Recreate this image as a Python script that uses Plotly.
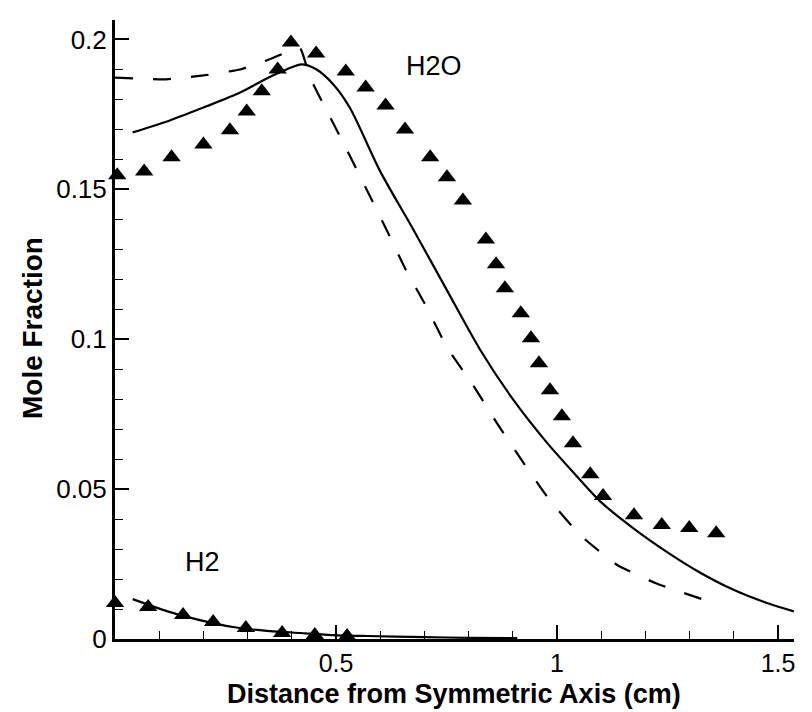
import plotly.graph_objects as go

# H2O measured (triangles)
h2o_exp_x = [0.005, 0.066, 0.128, 0.200, 0.260, 0.298, 0.332, 0.368, 0.398, 0.455,
             0.522, 0.567, 0.612, 0.656, 0.713, 0.751, 0.787, 0.839, 0.862, 0.882,
             0.918, 0.941, 0.959, 0.984, 1.011, 1.036, 1.075, 1.104, 1.174, 1.237,
             1.299, 1.360]
h2o_exp_y = [0.1547, 0.1560, 0.1607, 0.1650, 0.1697, 0.1760, 0.1827, 0.1900, 0.1990, 0.1953,
             0.1893, 0.1840, 0.1780, 0.1700, 0.1607, 0.1540, 0.1463, 0.1333, 0.1250, 0.1170,
             0.1087, 0.1003, 0.0920, 0.0830, 0.0743, 0.0653, 0.0550, 0.0477, 0.0413, 0.0380,
             0.0370, 0.0353]

# H2O model (solid)
h2o_solid_x = [0.040, 0.124, 0.207, 0.283, 0.343, 0.388, 0.422, 0.456, 0.494, 0.531,
               0.600, 0.676, 0.751, 0.826, 0.900, 0.977, 1.036, 1.097, 1.172,
               1.249, 1.323, 1.398, 1.475, 1.536]
h2o_solid_y = [0.1690, 0.1730, 0.1777, 0.1823, 0.1870, 0.1900, 0.1917, 0.1900, 0.1850, 0.1773,
               0.1560, 0.1363, 0.1163, 0.0965, 0.0800, 0.0655, 0.0557, 0.0460, 0.0370,
               0.0290, 0.0222, 0.0165, 0.0120, 0.0092]

# H2O model (dashed)
h2o_dash_x = [0.000, 0.109, 0.200, 0.283, 0.343, 0.388, 0.419, 0.441, 0.479, 0.525,
              0.570, 0.615, 0.656, 0.705, 0.751, 0.810, 0.864, 0.923, 0.980, 1.052,
              1.136, 1.222, 1.328]
h2o_dash_y = [0.1873, 0.1867, 0.1880, 0.1900, 0.1930, 0.1957, 0.1970, 0.1873, 0.1763, 0.1630,
              0.1497, 0.1363, 0.1237, 0.1107, 0.0973, 0.0847, 0.0720, 0.0590, 0.0470, 0.0347,
              0.0247, 0.0187, 0.0133]

# H2 measured (triangles)
h2_exp_x = [0.000, 0.075, 0.154, 0.222, 0.296, 0.378, 0.452, 0.525]
h2_exp_y = [0.0120, 0.0107, 0.0080, 0.0057, 0.0037, 0.0020, 0.0013, 0.0010]

# H2 model (solid)
h2_solid_x = [0.040, 0.117, 0.192, 0.267, 0.343, 0.419, 0.494, 0.570, 0.700, 0.800, 0.910]
h2_solid_y = [0.0133, 0.0093, 0.0063, 0.0040, 0.0027, 0.0020, 0.0013, 0.0010, 0.0006, 0.0004, 0.0003]

y_tickvals = [0, 0.05, 0.1, 0.15, 0.2]
y_ticktext = ["0", "0.05", "0.1", "0.15", "0.2"]
x_tickvals = [0.5, 1, 1.5]
x_ticktext = ["0.5", "1", "1.5"]

x_title = "Distance from Symmetric Axis (cm)"
y_title = "Mole Fraction"

FONT = "Liberation Sans, Arial, sans-serif"

fig = go.Figure()
fig.add_trace(go.Scatter(x=h2o_solid_x, y=h2o_solid_y, mode="lines",
                         line=dict(color="black", width=2.2, shape="spline", smoothing=0.8),
                         cliponaxis=False))
fig.add_trace(go.Scatter(x=h2o_dash_x, y=h2o_dash_y, mode="lines",
                         line=dict(color="black", width=2.2, dash="18px,20px",
                                   shape="spline", smoothing=0.4),
                         cliponaxis=False))
fig.add_trace(go.Scatter(x=h2_solid_x, y=h2_solid_y, mode="lines",
                         line=dict(color="black", width=2.2, shape="spline", smoothing=0.6),
                         cliponaxis=False))
fig.add_trace(go.Scatter(x=h2o_exp_x, y=h2o_exp_y, mode="markers",
                         marker=dict(symbol="triangle-up", size=16, color="black"),
                         cliponaxis=False))
fig.add_trace(go.Scatter(x=h2_exp_x, y=h2_exp_y, mode="markers",
                         marker=dict(symbol="triangle-up", size=16, color="black"),
                         cliponaxis=False))

fig.add_annotation(x=0.722, y=0.1913, text="H2O", showarrow=False,
                   font=dict(family=FONT, size=27, color="black"))
fig.add_annotation(x=0.198, y=0.0257, text="H2", showarrow=False,
                   font=dict(family=FONT, size=27, color="black"))

# axis titles as paper-anchored annotations for exact placement
fig.add_annotation(xref="paper", yref="paper", x=0.499, y=-0.0885,
                   xanchor="center", yanchor="middle", showarrow=False,
                   text="<b>" + x_title + "</b>",
                   font=dict(family=FONT, size=27, color="black"))
fig.add_annotation(xref="paper", yref="paper", x=-0.1222, y=0.5024,
                   xanchor="center", yanchor="middle", showarrow=False, textangle=-90,
                   text="<b>" + y_title + "</b>",
                   font=dict(family=FONT, size=28, color="black"))

fig.update_layout(
    width=812, height=712,
    margin=dict(l=115, r=18, t=20, b=73),
    paper_bgcolor="white", plot_bgcolor="white",
    showlegend=False,
    font=dict(family=FONT, size=25, color="black"),
)
fig.update_xaxes(
    range=[0, 1.536], showgrid=False, zeroline=False,
    showline=True, linecolor="black", linewidth=3,
    tickmode="array", tickvals=x_tickvals, ticktext=x_ticktext,
    ticks="inside", ticklen=14, tickwidth=2, tickcolor="black",
    minor=dict(tick0=0, dtick=0.1, ticks="inside", ticklen=8, tickwidth=1, tickcolor="black"),
    tickfont=dict(family=FONT, size=25, color="black"),
)
fig.update_yaxes(
    range=[0, 0.2065], showgrid=False, zeroline=False,
    showline=True, linecolor="black", linewidth=3,
    tickmode="array", tickvals=y_tickvals, ticktext=y_ticktext,
    ticks="inside", ticklen=14, tickwidth=2, tickcolor="black",
    minor=dict(tick0=0, dtick=0.01, ticks="inside", ticklen=8, tickwidth=1, tickcolor="black"),
    tickfont=dict(family=FONT, size=26, color="black"),
)

fig.write_html("out.html", config={"displayModeBar": False},
               post_script="document.body.style.margin='0px';")
